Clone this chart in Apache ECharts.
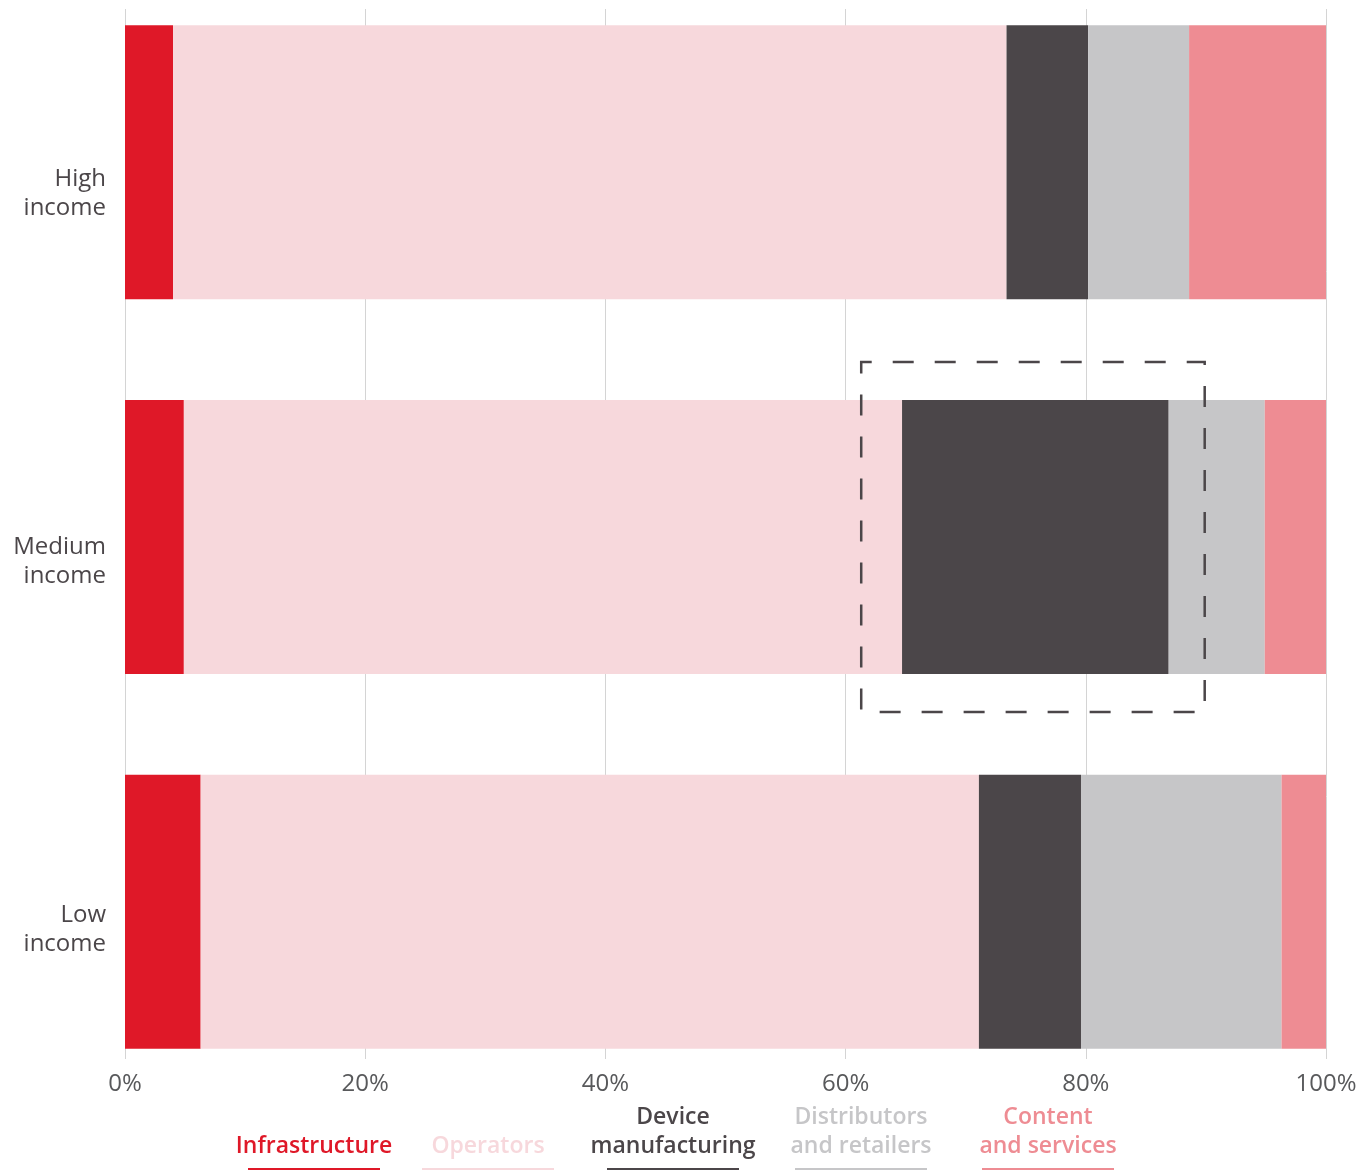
<!DOCTYPE html>
<html>
<head>
<meta charset="utf-8">
<title>Value chain share by income group</title>
<script src="https://cdn.jsdelivr.net/npm/echarts@6/dist/echarts.min.js"></script>
<style>
  html, body { margin: 0; padding: 0; background: #ffffff; }
  #chart { width: 1359px; height: 1170px; }
</style>
</head>
<body>
<div id="chart"></div>
<script>
// Income groups, top to bottom
const categories = ['High income', 'Medium income', 'Low income'];

// Share of value (%) captured by each segment of the value chain
const infrastructure = [4.0, 4.9, 6.3];
const operators = [69.4, 59.8, 64.8];
const deviceManufacturing = [6.8, 22.2, 8.5];
const distributors = [8.4, 8.0, 16.7];
const contentServices = [11.4, 5.1, 3.7];

// Axis ticks (%)
const xTicks = [0, 20, 40, 60, 80, 100];

// Highlighted span on the medium-income bar (%)
const highlightRange = [61.3, 89.9];
const highlightCategory = 'Medium income';

const segmentNames = ['Infrastructure', 'Operators', 'Device\nmanufacturing', 'Distributors\nand retailers', 'Content\nand services'];
const segmentValues = [infrastructure, operators, deviceManufacturing, distributors, contentServices];
const segmentColors = ['#DF1828', '#F7D8DC', '#4B4649', '#C6C6C8', '#EE8C93'];

const FONT = '"Open Sans", "Noto Sans", sans-serif';
const chart = echarts.init(document.getElementById('chart'), null, { renderer: 'canvas' });

const PLOT_LEFT = 125;
const PLOT_RIGHT = 33;

const barSeries = segmentNames.map((name, i) => ({
  name: name,
  type: 'bar',
  stack: 'share',
  xAxisIndex: 2,
  yAxisIndex: 2,
  barWidth: 274,
  data: segmentValues[i],
  itemStyle: { color: segmentColors[i] },
  emphasis: { disabled: true },
  z: 3
}));

// Legend: centred captions with an underline in each segment colour
const legendCenters = [314, 488, 673, 861, 1048];
const legendGraphics = [];
segmentNames.forEach((name, i) => {
  legendGraphics.push({
    type: 'text',
    x: legendCenters[i],
    y: 1161,
    style: {
      text: name,
      fill: segmentColors[i],
      font: '600 23px ' + FONT,
      align: 'center',
      verticalAlign: 'bottom',
      lineHeight: 29
    }
  });
  legendGraphics.push({
    type: 'rect',
    shape: { x: legendCenters[i] - 66, y: 1168, width: 132, height: 2 },
    style: { fill: segmentColors[i] }
  });
});

const option = {
  backgroundColor: '#ffffff',
  animation: false,
  grid: [
    // 0: category labels
    { left: PLOT_LEFT, right: PLOT_RIGHT, top: 9, height: 1105, outerBoundsMode: 'none', containLabel: false },
    // 1: vertical gridlines and percentage labels
    { left: PLOT_LEFT, right: PLOT_RIGHT, top: 9, bottom: 111, outerBoundsMode: 'none', containLabel: false },
    // 2: the stacked bars
    { left: PLOT_LEFT, right: PLOT_RIGHT, top: -25, height: 1124, outerBoundsMode: 'none', containLabel: false }
  ],
  xAxis: [
    { gridIndex: 0, type: 'value', min: 0, max: 100, show: false },
    {
      gridIndex: 1,
      type: 'value',
      min: xTicks[0],
      max: xTicks[xTicks.length - 1],
      interval: xTicks[1] - xTicks[0],
      axisLine: { show: false },
      axisTick: { show: false },
      splitLine: { show: true, lineStyle: { color: '#d4d4d4', width: 1 } },
      axisLabel: {
        formatter: v => v + '%',
        color: '#58595B',
        fontFamily: FONT,
        fontSize: 24,
        margin: 13
      }
    },
    { gridIndex: 2, type: 'value', min: 0, max: 100, show: false }
  ],
  yAxis: [
    {
      gridIndex: 0,
      type: 'category',
      data: categories,
      inverse: true,
      axisLine: { show: false },
      axisTick: { show: false },
      splitLine: { show: false },
      axisLabel: {
        formatter: v => v.replace(' ', '\n'),
        color: '#4B4649',
        fontFamily: FONT,
        fontSize: 24,
        lineHeight: 29,
        align: 'right',
        margin: 19
      }
    },
    { gridIndex: 1, type: 'value', min: 0, max: 1, show: false },
    { gridIndex: 2, type: 'category', data: categories, inverse: true, show: false }
  ],
  series: barSeries.concat([
    {
      name: 'highlight',
      type: 'custom',
      xAxisIndex: 2,
      yAxisIndex: 2,
      silent: true,
      z: 10,
      encode: { x: [0, 1], y: 2 },
      data: [[highlightRange[0], highlightRange[1], highlightCategory]],
      renderItem: function (params, api) {
        const p0 = api.coord([api.value(0), api.value(2)]);
        const p1 = api.coord([api.value(1), api.value(2)]);
        const band = api.size([0, 1])[1];
        const h = band * 0.934;
        return {
          type: 'rect',
          shape: { x: p0[0], y: p0[1] - h / 2, width: p1[0] - p0[0], height: h },
          style: {
            fill: 'none',
            stroke: '#4B4649',
            lineWidth: 2.5,
            lineDash: [21, 21],
            lineDashOffset: 10.5
          }
        };
      }
    }
  ]),
  graphic: legendGraphics
};

chart.setOption(option);
</script>
</body>
</html>
